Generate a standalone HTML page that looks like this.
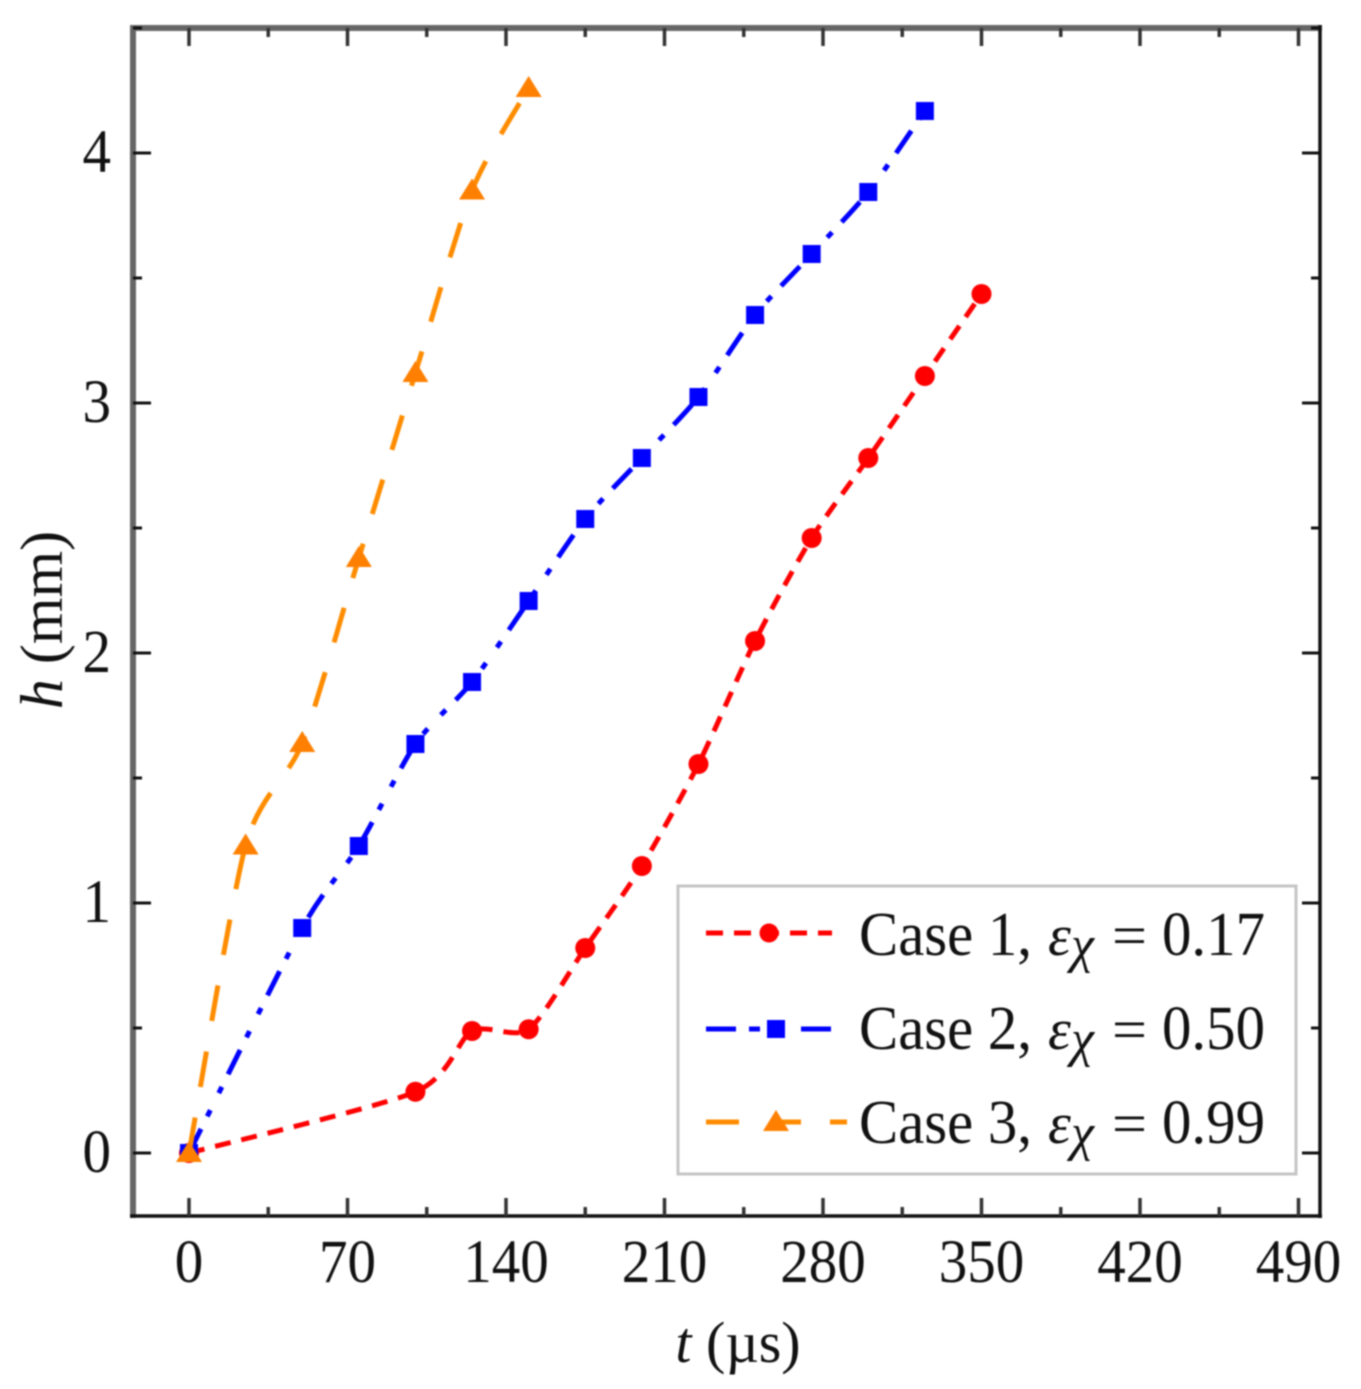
<!DOCTYPE html>
<html lang="en">
<head>
<meta charset="utf-8">
<title>Height vs time chart</title>
<style>
html,body{margin:0;padding:0;background:#fff;}
body{width:1361px;height:1389px;overflow:hidden;}
svg{display:block;filter:blur(0.7px);}
text{font-family:"Liberation Serif",serif;fill:#111;}
</style>
</head>
<body>
<svg id="chart" xmlns="http://www.w3.org/2000/svg" width="1361" height="1389" viewBox="0 0 1361 1389">
  <rect x="0" y="0" width="1361" height="1389" fill="#fff"/>
  <g id="series-layer"></g>
  <g id="axis-layer"></g>
  <text x="738" y="1362" font-size="58" text-anchor="middle"><tspan font-style="italic">t</tspan> (µs)</text>
  <text transform="translate(62,620) rotate(-90)" font-size="60" text-anchor="middle"><tspan font-style="italic">h</tspan> (mm)</text>
  <g>
    <rect x="678" y="886" width="618" height="288" fill="#fff" stroke="#c4c4c4" stroke-width="3"/>
    <g>
      <line x1="706" y1="933" x2="832" y2="933" stroke="#ff0000" stroke-width="5" stroke-dasharray="17 11"/>
      <circle cx="769" cy="933" r="9.5" fill="#ff0000"/>
      <text x="859" y="955" font-size="62" textLength="173" lengthAdjust="spacingAndGlyphs">Case 1,</text>
      <text x="1048" y="955" font-size="58" font-style="italic">ε</text>
      <text x="1071" y="962" font-size="52" font-style="italic">χ</text>
      <text x="1112" y="955" font-size="58" textLength="35" lengthAdjust="spacingAndGlyphs">=</text>
      <text x="1162" y="955" font-size="62" textLength="103" lengthAdjust="spacingAndGlyphs">0.17</text>
    </g>
    <g>
      <line x1="706" y1="1029" x2="832" y2="1029" stroke="#0000ff" stroke-width="5" stroke-dasharray="30 13 11 11 10 20"/>
      <rect x="767" y="1020" width="18" height="18" fill="#0000ff"/>
      <text x="859" y="1049" font-size="62" textLength="173" lengthAdjust="spacingAndGlyphs">Case 2,</text>
      <text x="1048" y="1049" font-size="58" font-style="italic">ε</text>
      <text x="1071" y="1056" font-size="52" font-style="italic">χ</text>
      <text x="1112" y="1049" font-size="58" textLength="35" lengthAdjust="spacingAndGlyphs">=</text>
      <text x="1162" y="1049" font-size="62" textLength="103" lengthAdjust="spacingAndGlyphs">0.50</text>
    </g>
    <g>
      <line x1="706" y1="1122" x2="847" y2="1122" stroke="#ff8c00" stroke-width="5" stroke-dasharray="33 32 30 29 17"/>
      <polygon points="776,1110 789,1131 763,1131" fill="#ff8000"/>
      <text x="859" y="1143" font-size="62" textLength="173" lengthAdjust="spacingAndGlyphs">Case 3,</text>
      <text x="1048" y="1143" font-size="58" font-style="italic">ε</text>
      <text x="1071" y="1150" font-size="52" font-style="italic">χ</text>
      <text x="1112" y="1143" font-size="58" textLength="35" lengthAdjust="spacingAndGlyphs">=</text>
      <text x="1162" y="1143" font-size="62" textLength="103" lengthAdjust="spacingAndGlyphs">0.99</text>
    </g>
  </g>
</svg>
<script>
var xTickLabels = ["0", "70", "140", "210", "280", "350", "420", "490"];
var yTickLabels = ["0", "1", "2", "3", "4"];
var case1Times = [0, 100, 125, 150, 175, 200, 225, 250, 275, 300, 325, 350];
var case1Heights = [0, 0.245, 0.488, 0.495, 0.82, 1.148, 1.556, 2.048, 2.46, 2.78, 3.108, 3.436];
var case2Times = [0, 50, 75, 100, 125, 150, 175, 200, 225, 250, 275, 300, 325];
var case2Heights = [0, 0.9, 1.228, 1.636, 1.884, 2.208, 2.536, 2.78, 3.024, 3.352, 3.596, 3.844, 4.168];
var case3Times = [0, 25, 50, 75, 100, 125, 150];
var case3Heights = [0, 1.23, 1.64, 2.38, 3.12, 3.85, 4.26];

var NS = 'http://www.w3.org/2000/svg';
var xOrigin = 189, xPerUnit = 158.5 / 70;
var yOrigin = 1153, yPerUnit = 250;
var frameLeft = 133, frameRight = 1320, frameTop = 28, frameBottom = 1216;
function xScale(t) { return xOrigin + t * xPerUnit; }
function yScale(h) { return yOrigin - h * yPerUnit; }
function make(tag, attrs, parent) {
  var el = document.createElementNS(NS, tag);
  for (var k in attrs) { el.setAttribute(k, attrs[k]); }
  parent.appendChild(el);
  return el;
}
var seriesLayer = document.getElementById('series-layer');
var axisLayer = document.getElementById('axis-layer');

/* smooth curve through the data points (Catmull-Rom), as in the source figure */
function linePath(ts, hs) {
  var pts = ts.map(function (t, i) { return [xScale(t), yScale(hs[i])]; });
  var d = 'M' + pts[0][0].toFixed(1) + ' ' + pts[0][1].toFixed(1);
  var k = 1 / 8;
  for (var i = 0; i < pts.length - 1; i++) {
    var p0 = pts[Math.max(i - 1, 0)], p1 = pts[i], p2 = pts[i + 1], p3 = pts[Math.min(i + 2, pts.length - 1)];
    var c1x = p1[0] + (p2[0] - p0[0]) * k, c1y = p1[1] + (p2[1] - p0[1]) * k;
    var c2x = p2[0] - (p3[0] - p1[0]) * k, c2y = p2[1] - (p3[1] - p1[1]) * k;
    d += ' C' + c1x.toFixed(1) + ' ' + c1y.toFixed(1) + ' ' + c2x.toFixed(1) + ' ' + c2y.toFixed(1) + ' ' + p2[0].toFixed(1) + ' ' + p2[1].toFixed(1);
  }
  return d;
}

/* case 1 */
var g1 = make('g', {}, seriesLayer);


var l1 = make('path', { d: linePath(case1Times, case1Heights), fill: 'none', stroke: '#ff0000', 'stroke-width': 5, 'stroke-dasharray': '16 11' }, g1);


case1Times.forEach(function (t, i) {
  var c = make('circle', { cx: xScale(t), cy: yScale(case1Heights[i]), r: 10, fill: '#ff0000' }, g1);
  
  
});

/* case 2 */
var g2 = make('g', {}, seriesLayer);


var l2 = make('path', { d: linePath(case2Times, case2Heights), fill: 'none', stroke: '#0000ff', 'stroke-width': 5, 'stroke-dasharray': '27 14 7 19 7 14' }, g2);


case2Times.forEach(function (t, i) {
  var s = make('rect', { x: xScale(t) - 9, y: yScale(case2Heights[i]) - 9, width: 18, height: 18, fill: '#0000ff' }, g2);
  
  
});

/* case 3 */
var g3 = make('g', {}, seriesLayer);


var l3 = make('path', { d: linePath(case3Times, case3Heights), fill: 'none', stroke: '#ff8c00', 'stroke-width': 5, 'stroke-dasharray': '36 31' }, g3);


case3Times.forEach(function (t, i) {
  var px = xScale(t), py = yScale(case3Heights[i]);
  var p = make('polygon', { points: px + ',' + (py - 12) + ' ' + (px + 13) + ',' + (py + 9) + ' ' + (px - 13) + ',' + (py + 9), fill: '#ff8000' }, g3);
  
  
});

/* frame */
var spineTop = make('line', { x1: frameLeft - 3, y1: frameTop, x2: frameRight + 2, y2: frameTop, stroke: '#666', 'stroke-width': 6 }, axisLayer);


var spineLeft = make('line', { x1: frameLeft, y1: frameTop - 3, x2: frameLeft, y2: frameBottom + 2, stroke: '#666', 'stroke-width': 6 }, axisLayer);


var spineBottom = make('line', { x1: frameLeft - 3, y1: frameBottom, x2: frameRight + 2, y2: frameBottom, stroke: '#111', 'stroke-width': 3.5 }, axisLayer);


var spineRight = make('line', { x1: frameRight, y1: frameTop - 3, x2: frameRight, y2: frameBottom + 2, stroke: '#111', 'stroke-width': 3.5 }, axisLayer);



/* x ticks */
var xStep = 70;
xTickLabels.forEach(function (lab, i) {
  var v = Number(lab);
  var px = xScale(v);
  var b = make('line', { x1: px, y1: frameBottom, x2: px, y2: frameBottom - 18, stroke: '#333', 'stroke-width': 3.5 }, axisLayer);
  
  
  var t = make('line', { x1: px, y1: frameTop, x2: px, y2: frameTop + 18, stroke: '#333', 'stroke-width': 3.5 }, axisLayer);
  
  
  var label = make('text', { x: px, y: 1282, 'font-size': 61, 'text-anchor': 'middle', textLength: 28.5 * lab.length, lengthAdjust: 'spacingAndGlyphs' }, axisLayer);
  
  
  label.textContent = lab;
  if (i < xTickLabels.length - 1) {
    var mx = xScale(v + xStep / 2);
    var mb = make('line', { x1: mx, y1: frameBottom, x2: mx, y2: frameBottom - 9, stroke: '#333', 'stroke-width': 3.5 }, axisLayer);
    
    
    var mt = make('line', { x1: mx, y1: frameTop, x2: mx, y2: frameTop + 9, stroke: '#333', 'stroke-width': 3.5 }, axisLayer);
    
    
  }
});

/* y ticks */
yTickLabels.forEach(function (lab) {
  var v = Number(lab);
  var py = yScale(v);
  var l = make('line', { x1: frameLeft, y1: py, x2: frameLeft + 18, y2: py, stroke: '#111', 'stroke-width': 3 }, axisLayer);
  
  
  var r = make('line', { x1: frameRight, y1: py, x2: frameRight - 18, y2: py, stroke: '#111', 'stroke-width': 3 }, axisLayer);
  
  
  var label = make('text', { x: 111, y: py + 19, 'font-size': 61, 'text-anchor': 'end' , textLength: 28.5, lengthAdjust: 'spacingAndGlyphs' }, axisLayer);
  
  
  label.textContent = lab;
  var my = yScale(v + 0.5);
  var ml = make('line', { x1: frameLeft, y1: my, x2: frameLeft + 9, y2: my, stroke: '#111', 'stroke-width': 3 }, axisLayer);
  
  
  var mr = make('line', { x1: frameRight, y1: my, x2: frameRight - 9, y2: my, stroke: '#111', 'stroke-width': 3 }, axisLayer);
  
  
});
</script>
</body>
</html>
